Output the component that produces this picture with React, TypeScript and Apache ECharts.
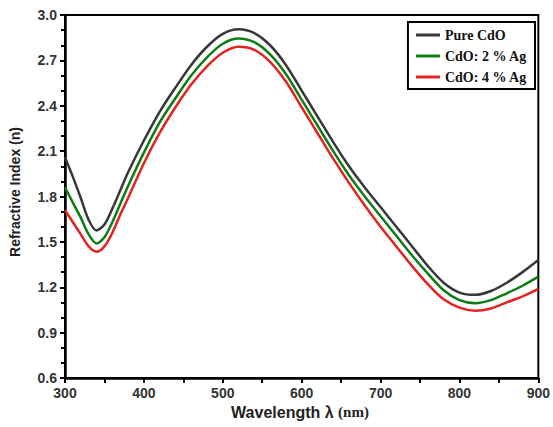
import React, { useEffect, useRef } from "react";
import * as echarts from "echarts";

const wavelengths = [300, 310, 320, 330, 340, 350, 360, 370, 380, 400, 420, 440, 460, 480, 500, 520, 540, 560, 580, 600, 620, 640, 660, 680, 700, 720, 740, 760, 780, 800, 820, 840, 860, 880, 900];
const pureCdO = [2.06, 1.93, 1.79, 1.645, 1.576, 1.615, 1.72, 1.84, 1.96, 2.17, 2.36, 2.52, 2.67, 2.79, 2.875, 2.905, 2.88, 2.80, 2.67, 2.50, 2.33, 2.16, 2.00, 1.86, 1.73, 1.60, 1.47, 1.34, 1.23, 1.165, 1.15, 1.175, 1.23, 1.30, 1.38];
const ag2 = [1.86, 1.76, 1.66, 1.55, 1.49, 1.53, 1.63, 1.75, 1.87, 2.09, 2.29, 2.45, 2.60, 2.72, 2.81, 2.845, 2.82, 2.74, 2.61, 2.44, 2.27, 2.10, 1.94, 1.80, 1.67, 1.54, 1.41, 1.29, 1.18, 1.115, 1.095, 1.115, 1.16, 1.21, 1.27];
const ag4 = [1.71, 1.63, 1.55, 1.47, 1.435, 1.47, 1.56, 1.68, 1.79, 2.02, 2.22, 2.39, 2.54, 2.66, 2.75, 2.79, 2.77, 2.69, 2.56, 2.39, 2.22, 2.05, 1.89, 1.74, 1.60, 1.47, 1.34, 1.22, 1.12, 1.065, 1.045, 1.06, 1.10, 1.14, 1.19];
const seriesNames = ["Pure CdO", "CdO: 2 % Ag", "CdO: 4 % Ag"];
const seriesColors = ["#383838", "#0b7d12", "#e3231f"];

export default function App() {
  const ref = useRef<HTMLDivElement>(null);
  useEffect(() => {
    if (!ref.current) return;
    const chart = echarts.init(ref.current, null, { renderer: "svg" });
    const datasets = [pureCdO, ag2, ag4];
    chart.setOption({
      animation: false,
      backgroundColor: "#fff",
      grid: { left: 65, right: 13, top: 15, bottom: 49, show: true, borderColor: "#000", borderWidth: 2, backgroundColor: "transparent" },
      legend: {
        right: 18,
        top: 22,
        orient: "vertical",
        itemWidth: 24,
        itemHeight: 3,
        itemGap: 7,
        padding: [6, 8, 5, 8],
        borderColor: "#000",
        borderWidth: 2,
        icon: "rect",
        textStyle: { fontFamily: "Liberation Serif", fontWeight: "bold", fontSize: 14, color: "#111" },
        data: seriesNames,
      },
      xAxis: {
        type: "value",
        min: 300,
        max: 900,
        interval: 100,
        axisLine: { show: true, lineStyle: { color: "#000", width: 2.5 } },
        axisTick: { show: true, length: 5, lineStyle: { color: "#000", width: 2 } },
        minorTick: { show: true, splitNumber: 2, length: 5, lineStyle: { color: "#000", width: 2 } },
        splitLine: { show: false },
        axisLabel: { color: "#333", fontSize: 14, fontWeight: "bold", fontFamily: "Liberation Sans", margin: 8 },
      },
      yAxis: {
        type: "value",
        min: 0.6,
        max: 3.0,
        interval: 0.3,
        axisLine: { show: true, lineStyle: { color: "#000", width: 2.5 } },
        axisTick: { show: true, length: 5, lineStyle: { color: "#000", width: 2 } },
        minorTick: { show: true, splitNumber: 3, length: 4, lineStyle: { color: "#000", width: 2 } },
        splitLine: { show: false },
        axisLabel: { color: "#333", fontSize: 14, fontWeight: "bold", fontFamily: "Liberation Sans", margin: 8, formatter: (v: number) => v.toFixed(1) },
      },
      series: datasets.map((d, i) => ({
        name: seriesNames[i],
        type: "line",
        data: wavelengths.map((w, j) => [w, d[j]]),
        smooth: 0.3,
        showSymbol: false,
        lineStyle: { color: seriesColors[i], width: 2.5 },
        itemStyle: { color: seriesColors[i] },
        z: 3 - i,
      })),
      graphic: [
        {
          type: "text",
          x: 15,
          y: 192,
          rotation: Math.PI / 2,
          style: { text: "Refractive Index (n)", font: "bold 14px 'Liberation Sans'", fill: "#222", align: "center", verticalAlign: "middle" },
        },
        {
          type: "text",
          x: 300,
          y: 412,
          style: {
            text: "{a|Wavelength λ }{b|(nm)}",
            align: "center",
            verticalAlign: "middle",
            rich: {
              a: { font: "bold 16px 'Liberation Sans'", fill: "#222" },
              b: { font: "bold 15px 'Liberation Serif'", fill: "#222" },
            },
          },
        },
      ],
    });
    return () => chart.dispose();
  }, []);
  return <div ref={ref} style={{ position: "fixed", left: 0, top: 0, width: 553, height: 427 }} />;
}
